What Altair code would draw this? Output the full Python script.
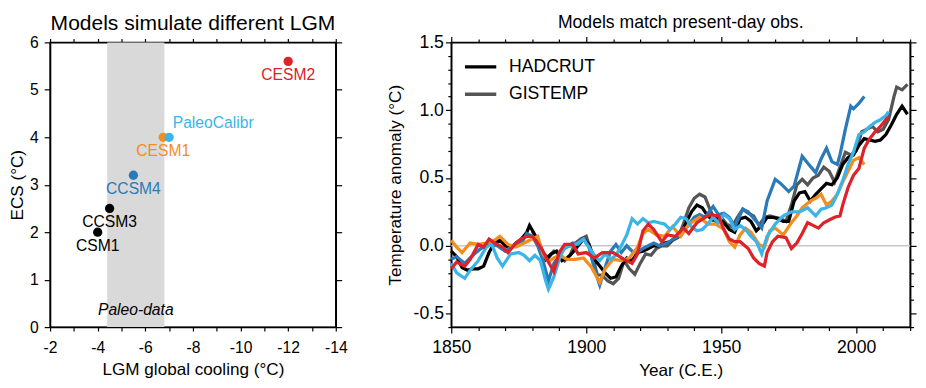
import altair as alt
import pandas as pd

FONT = "Liberation Sans"

# ---------------- Left panel data ----------------
models = ["CSM1", "CCSM3", "CCSM4", "CESM1", "PaleoCalibr", "CESM2"]
lgm_cooling = [-4.0, -4.5, -5.5, -6.75, -7.0, -12.0]
ecs = [2.0, 2.5, 3.2, 4.0, 4.0, 5.6]
model_colors = ["#000000", "#000000", "#2a79b8", "#f28e1e", "#3bb5e8", "#dd2229"]
paleo_lo = [-4.4]
paleo_hi = [-6.8]
paleo_label = ["Paleo-data"]

# ---------------- Right panel data ----------------
hadcrut_years = [1850, 1852, 1854, 1856, 1858, 1860, 1862, 1864, 1866, 1868, 1870, 1872, 1874, 1876, 1878,
                 1879, 1881, 1883, 1885, 1887, 1889, 1891, 1893, 1895, 1897, 1899, 1901, 1903, 1905, 1907,
                 1909, 1911, 1913, 1915, 1917, 1919, 1921, 1923, 1925, 1927, 1929, 1931, 1933, 1935, 1937,
                 1939, 1941, 1943, 1945, 1947, 1949, 1951, 1953, 1955, 1957, 1959, 1961, 1963, 1965, 1967,
                 1969, 1971, 1973, 1975, 1977, 1979, 1981, 1983, 1985, 1987, 1989, 1991, 1993, 1995, 1997,
                 1999, 2001, 2003, 2005, 2007, 2009, 2011, 2013, 2015, 2017, 2019]
hadcrut_vals = [-0.04, -0.08, -0.16, -0.18, -0.17, -0.17, -0.15, -0.05, 0.02, 0.04, 0.00, -0.02, 0.02, 0.05, 0.10,
                0.15, 0.08, 0.00, -0.10, -0.06, -0.04, -0.11, -0.09, -0.05, 0.00, 0.05, 0.01, -0.10, -0.15, -0.20,
                -0.24, -0.23, -0.15, -0.09, -0.11, -0.05, -0.04, -0.02, 0.00, 0.00, 0.02, 0.03, 0.06, 0.08, 0.17,
                0.25, 0.30, 0.28, 0.22, 0.19, 0.21, 0.17, 0.12, 0.10, 0.20, 0.21, 0.18, 0.11, 0.15, 0.21,
                0.21, 0.20, 0.18, 0.18, 0.33, 0.39, 0.40, 0.33, 0.38, 0.42, 0.46, 0.45, 0.50, 0.60, 0.65,
                0.67, 0.74, 0.79, 0.78, 0.77, 0.78, 0.82, 0.89, 0.97, 1.03, 0.97]

gistemp_years = [1880, 1882, 1884, 1886, 1888, 1890, 1892, 1894, 1896, 1898, 1900, 1902, 1904, 1906, 1908,
                 1910, 1912, 1914, 1916, 1918, 1920, 1922, 1924, 1926, 1928, 1930, 1932, 1934, 1936, 1938,
                 1940, 1942, 1944, 1946, 1948, 1950, 1952, 1954, 1956, 1958, 1960, 1962, 1964, 1966, 1968,
                 1970, 1972, 1974, 1976, 1978, 1980, 1982, 1984, 1986, 1988, 1990, 1992, 1994, 1996, 1998,
                 2000, 2002, 2004, 2006, 2008, 2010, 2012, 2014, 2015, 2017, 2019]
gistemp_vals = [0.11, 0.04, -0.05, -0.09, -0.04, -0.05, -0.11, -0.07, 0.02, 0.05, 0.07, -0.05, -0.21, -0.22, -0.26,
                -0.28, -0.24, -0.11, -0.17, -0.21, -0.13, -0.06, -0.07, -0.02, 0.00, 0.00, 0.04, 0.06, 0.16, 0.28,
                0.35, 0.38, 0.36, 0.26, 0.18, 0.21, 0.16, 0.14, 0.21, 0.27, 0.24, 0.22, 0.15, 0.21, 0.22,
                0.21, 0.20, 0.18, 0.30, 0.45, 0.49, 0.45, 0.50, 0.52, 0.58, 0.55, 0.47, 0.58, 0.69, 0.67,
                0.70, 0.84, 0.86, 0.88, 0.84, 0.86, 0.93, 1.10, 1.17, 1.15, 1.19]

ccsm4_years = [1850, 1852, 1855, 1858, 1861, 1864, 1867, 1870, 1873, 1876, 1878, 1880, 1882, 1884, 1886,
               1888, 1890, 1892, 1895, 1897, 1899, 1901, 1903, 1905, 1907, 1909, 1911, 1913, 1915, 1917,
               1919, 1921, 1923, 1925, 1927, 1930, 1934, 1937, 1940, 1942, 1944, 1947, 1949, 1951, 1953,
               1955, 1958, 1960, 1963, 1965, 1967, 1970, 1972, 1975, 1977, 1980, 1982, 1985, 1987, 1989,
               1991, 1993, 1994, 1996, 1998, 1999, 2001, 2003]
ccsm4_vals = [-0.10, -0.08, -0.13, -0.07, -0.02, 0.01, 0.00, -0.04, 0.00, 0.02, 0.09, 0.07, 0.00, -0.11, -0.26,
              -0.13, -0.07, -0.02, 0.02, 0.01, 0.05, -0.01, -0.17, -0.29, -0.16, -0.04, 0.01, -0.05, 0.00, -0.04,
              -0.05, -0.02, 0.00, 0.02, 0.00, 0.02, 0.07, 0.13, 0.21, 0.23, 0.21, 0.29, 0.23, 0.24, 0.21,
              0.14, 0.27, 0.25, 0.18, 0.13, 0.33, 0.49, 0.46, 0.40, 0.44, 0.66, 0.61, 0.54, 0.64, 0.72,
              0.62, 0.60, 0.67, 0.86, 1.03, 1.01, 1.05, 1.10]

cesm1_years = [1850, 1852, 1854, 1857, 1860, 1863, 1866, 1868, 1871, 1874, 1877, 1880, 1882, 1884, 1886,
               1888, 1890, 1893, 1896, 1899, 1902, 1905, 1907, 1910, 1913, 1916, 1919, 1921, 1923, 1926,
               1929, 1932, 1935, 1938, 1942, 1945, 1948, 1951, 1953, 1955, 1957, 1959, 1961, 1964, 1966,
               1968, 1970, 1973, 1976, 1978, 1980, 1983, 1985, 1987, 1989, 1991, 1993, 1995, 1997, 1999,
               2001, 2003]
cesm1_vals = [0.04, -0.01, -0.05, 0.02, 0.01, 0.02, 0.04, 0.07, 0.01, -0.01, 0.02, 0.05, 0.07, -0.06, -0.12,
              -0.09, -0.07, -0.10, -0.10, -0.09, -0.16, -0.27, -0.17, -0.10, -0.11, -0.09, -0.01, 0.09, 0.12, 0.08,
              0.07, 0.14, 0.07, 0.16, 0.21, 0.16, 0.16, 0.12, 0.03, -0.01, 0.08, 0.13, 0.10, 0.01, -0.01,
              0.11, 0.13, 0.08, 0.17, 0.22, 0.28, 0.33, 0.35, 0.38, 0.30, 0.33, 0.38, 0.47, 0.55, 0.63,
              0.65, 0.60]

paleo_years = [1850, 1852, 1855, 1857, 1860, 1863, 1865, 1867, 1869, 1872, 1875, 1877, 1879, 1881, 1883,
               1885, 1886, 1888, 1890, 1892, 1895, 1897, 1899, 1901, 1903, 1905, 1907, 1909, 1911, 1913,
               1915, 1917, 1919, 1921, 1923, 1925, 1927, 1929, 1931, 1933, 1935, 1937, 1939, 1941, 1943,
               1945, 1947, 1949, 1951, 1953, 1955, 1957, 1959, 1961, 1963, 1965, 1967, 1970, 1973, 1976,
               1979, 1982, 1985, 1987, 1989, 1991, 1993, 1995, 1997, 1999, 2001, 2003, 2005, 2007, 2009,
               2011, 2012]
paleo_vals = [-0.13, -0.20, -0.24, -0.18, -0.11, -0.01, 0.01, -0.09, -0.15, -0.06, -0.05, -0.07, -0.11, -0.07, -0.11,
              -0.26, -0.32, -0.23, -0.10, -0.01, 0.00, 0.02, 0.05, -0.01, -0.07, -0.11, -0.06, -0.10, -0.07, 0.00,
              0.08, 0.20, 0.16, 0.20, 0.17, 0.18, 0.17, 0.16, 0.12, 0.16, 0.21, 0.20, 0.14, 0.11, 0.12,
              0.16, 0.21, 0.17, 0.23, 0.20, 0.12, 0.15, 0.12, 0.07, 0.03, -0.06, 0.07, 0.16, 0.22, 0.25,
              0.25, 0.28, 0.22, 0.27, 0.28, 0.30, 0.38, 0.48, 0.60, 0.69, 0.82, 0.84, 0.88, 0.91, 0.93,
              0.96, 0.99]

cesm2_years = [1850, 1852, 1855, 1857, 1860, 1862, 1864, 1866, 1869, 1871, 1874, 1876, 1878, 1880, 1882,
               1884, 1886, 1888, 1890, 1892, 1895, 1897, 1900, 1903, 1906, 1910, 1914, 1917, 1919, 1921,
               1923, 1925, 1928, 1930, 1933, 1936, 1938, 1941, 1944, 1946, 1949, 1951, 1953, 1955, 1957,
               1960, 1962, 1964, 1966, 1967, 1969, 1971, 1974, 1976, 1978, 1980, 1982, 1984, 1986, 1988,
               1990, 1992, 1994, 1995, 1997, 1999, 2001, 2003, 2005, 2007, 2009, 2011, 2012]
cesm2_vals = [-0.17, -0.12, -0.15, -0.10, 0.01, -0.01, 0.05, 0.02, -0.01, -0.05, 0.02, 0.05, 0.07, 0.07, 0.02,
              -0.04, -0.12, -0.19, -0.05, 0.01, 0.01, -0.06, -0.05, -0.09, -0.05, -0.05, -0.10, -0.13, -0.06, 0.11,
              0.16, 0.12, 0.03, 0.08, 0.07, 0.13, 0.09, 0.17, 0.21, 0.23, 0.22, 0.12, 0.05, 0.03, 0.03,
              -0.02, -0.09, -0.13, -0.15, -0.05, 0.03, 0.07, 0.06, -0.02, 0.02, 0.09, 0.17, 0.15, 0.13, 0.17,
              0.19, 0.21, 0.22, 0.30, 0.43, 0.52, 0.57, 0.72, 0.79, 0.84, 0.88, 0.93, 0.95]

series_names = ["GISTEMP", "HADCRUT", "CCSM4", "CESM1", "PaleoCalibr", "CESM2"]
series_colors = ["#555555", "#000000", "#2a79b8", "#f28e1e", "#3bb5e8", "#dd2229"]
series_data = {
    "GISTEMP": (gistemp_years, gistemp_vals),
    "HADCRUT": (hadcrut_years, hadcrut_vals),
    "CCSM4": (ccsm4_years, ccsm4_vals),
    "CESM1": (cesm1_years, cesm1_vals),
    "PaleoCalibr": (paleo_years, paleo_vals),
    "CESM2": (cesm2_years, cesm2_vals),
}
legend_entries = ["HADCRUT", "GISTEMP"]

AX = dict(grid=False, labelFlush=False, domainColor="black", domainWidth=1.5,
          tickColor="black", tickWidth=1.2, labelColor="black", titleColor="black",
          labelFont=FONT, titleFont=FONT, titleFontWeight="normal")

# ---------------- Left panel ----------------
left_df = pd.DataFrame({"model": models, "cool": lgm_cooling, "ecs": ecs})
band_df = pd.DataFrame({"lo": paleo_lo, "hi": paleo_hi, "label": paleo_label})

xs_l = alt.Scale(domain=[-14, -2], reverse=True, nice=False, zero=False, padding=0)
ys_l = alt.Scale(domain=[0, 6], nice=False, zero=False, padding=0)
cs_l = alt.Scale(domain=models, range=model_colors)
xt_l = list(range(-2, -15, -1))
yt_l = list(range(0, 7))

band = alt.Chart(band_df).mark_rect(color="#d9d9d9").encode(
    x=alt.X("lo:Q", scale=xs_l, axis=None), x2="hi:Q")

band_text = alt.Chart(band_df).transform_calculate(
    mid="(datum.lo + datum.hi) / 2").mark_text(
    font=FONT, fontSize=16, fontStyle="italic", baseline="middle", color="black").encode(
    x=alt.X("mid:Q", scale=xs_l, axis=None), y=alt.value(274), text="label:N")

frame_l = alt.Chart(left_df).mark_circle(opacity=0).encode(
    x=alt.X("cool:Q", scale=xs_l, title=None,
            axis=alt.Axis(orient="top", values=xt_l, labels=False, tickSize=4, **AX)),
    y=alt.Y("ecs:Q", scale=ys_l, title=None,
            axis=alt.Axis(orient="right", values=yt_l, labels=False, tickSize=6, **AX)))

pts = alt.Chart(left_df).mark_circle(size=90, opacity=1).encode(
    x=alt.X("cool:Q", scale=xs_l, title="LGM global cooling (°C)",
            axis=alt.Axis(orient="bottom", values=xt_l,
                          labelExpr="datum.value % 2 == 0 ? '' + datum.value : ''",
                          tickSize=4, labelPadding=9, titlePadding=5, labelFontSize=16,
                          titleFontSize=17.5, **AX)),
    y=alt.Y("ecs:Q", scale=ys_l, title="ECS (°C)",
            axis=alt.Axis(orient="left", values=yt_l, tickSize=6, labelPadding=6,
                          titlePadding=3, labelFontSize=16, titleFontSize=17.5, **AX)),
    color=alt.Color("model:N", scale=cs_l, legend=None))

labels_below = alt.Chart(left_df).transform_filter(
    "datum.model != 'PaleoCalibr'").mark_text(
    font=FONT, fontSize=16, dy=14, baseline="middle").encode(
    x=alt.X("cool:Q", scale=xs_l, axis=None),
    y=alt.Y("ecs:Q", scale=ys_l, axis=None),
    text="model:N",
    color=alt.Color("model:N", scale=cs_l, legend=None))

label_above = alt.Chart(left_df).transform_filter(
    "datum.model == 'PaleoCalibr'").mark_text(
    font=FONT, fontSize=16, dx=45, dy=-14, baseline="middle").encode(
    x=alt.X("cool:Q", scale=xs_l, axis=None),
    y=alt.Y("ecs:Q", scale=ys_l, axis=None),
    text="model:N",
    color=alt.Color("model:N", scale=cs_l, legend=None))

left = alt.layer(band, band_text, frame_l, pts, labels_below, label_above).resolve_axis(
    x="independent", y="independent"
).properties(
    width=292, height=291,
    title=alt.TitleParams("Models simulate different LGM", fontSize=21.5, offset=0))

# ---------------- Right panel ----------------
rows = []
for name in series_names:
    yrs, vals = series_data[name]
    for yv, vv in zip(yrs, vals):
        rows.append({"series": name, "year": yv, "val": vv})
right_df = pd.DataFrame(rows)

xs_r = alt.Scale(domain=[1850, 2020], nice=False, zero=False, padding=0)
ys_r = alt.Scale(domain=[-0.6, 1.5], nice=False, zero=False, padding=0)
cs_r = alt.Scale(domain=series_names, range=series_colors)
xt_r = list(range(1850, 2021, 10))
yt_r = [round(-0.6 + 0.1 * i, 1) for i in range(22)]

x_major = "datum.value % 50 == 0"
y_major = "abs(round(datum.value * 10)) % 5 == 0"
x_tick = {"condition": {"test": x_major, "value": 6}, "value": 3.5}
y_tick = {"condition": {"test": y_major, "value": 6}, "value": 3.5}

zero_df = pd.DataFrame({"v": [0.0]})
zero = alt.Chart(zero_df).mark_rule(color="#c8c8c8", strokeWidth=1.5).encode(
    y=alt.Y("v:Q", scale=ys_r, axis=None))

frame_r = alt.Chart(right_df).mark_point(opacity=0).encode(
    x=alt.X("year:Q", scale=xs_r, title=None,
            axis=alt.Axis(orient="top", values=xt_r, labels=False, tickSize=x_tick, **AX)),
    y=alt.Y("val:Q", scale=ys_r, title=None,
            axis=alt.Axis(orient="right", values=yt_r, labels=False, tickSize=y_tick, **AX)))

lines = alt.Chart(right_df).mark_line(strokeWidth=3.3).encode(
    x=alt.X("year:Q", scale=xs_r, title="Year (C.E.)",
            axis=alt.Axis(orient="bottom", values=xt_r,
                          labelExpr=x_major + " ? '' + datum.value : ''",
                          tickSize=x_tick, labelPadding=6, titlePadding=5,
                          labelFontSize=18, titleFontSize=17.5, **AX)),
    y=alt.Y("val:Q", scale=ys_r, title="Temperature anomaly (°C)",
            axis=alt.Axis(orient="left", values=yt_r,
                          labelExpr=y_major + " ? replace(format(datum.value, '.1f'), '\u2212', '-') : ''",
                          tickSize=y_tick, labelPadding=2, titlePadding=9,
                          labelFontSize=18, titleFontSize=17.5, **AX)),
    color=alt.Color("series:N", scale=cs_r,
                    legend=alt.Legend(values=legend_entries, title=None, orient="none",
                                      legendX=12, legendY=7, symbolType="stroke",
                                      symbolSize=1024, symbolStrokeWidth=3.5,
                                      labelFontSize=18, labelFont=FONT, labelColor="black",
                                      rowPadding=1, labelOffset=11, padding=0)))

right = alt.layer(zero, frame_r, lines).resolve_axis(
    x="independent", y="independent"
).properties(
    width=469, height=291,
    title=alt.TitleParams("Models match present-day obs.", fontSize=18, offset=2))

chart = alt.hconcat(left, right, spacing=38).resolve_scale(
    color="independent"
).resolve_legend(
    color="independent"
).properties(
    padding={"left": 0, "top": 0, "right": 0, "bottom": 0}
).configure_view(
    stroke="black", strokeWidth=1.5
).configure_title(
    font=FONT, fontWeight="normal", color="black", anchor="middle"
)

chart.save("out.html", embed_options={"renderer": "svg", "actions": False})
